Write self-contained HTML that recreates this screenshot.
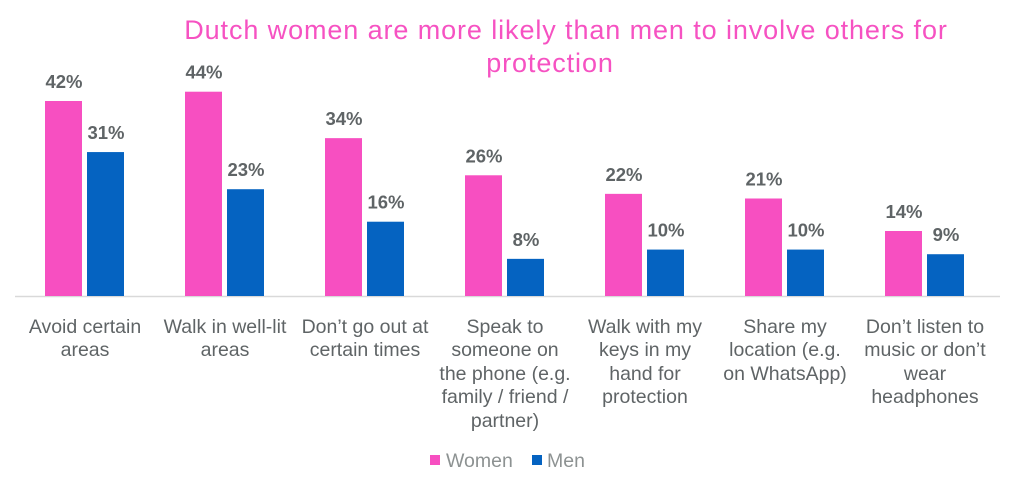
<!DOCTYPE html>
<html><head><meta charset="utf-8"><style>
body{margin:0;background:#fff;width:1024px;height:490px;overflow:hidden}
svg{display:block;font-family:"Liberation Sans",sans-serif}
.v{font-size:18.5px;font-weight:bold;fill:#5f6466;text-anchor:middle}
.c{font-size:19.5px;fill:#5f6466;text-anchor:middle}
.t{font-size:27px;fill:#f652c2;text-anchor:middle;letter-spacing:0.9px}
</style></head><body>
<svg width="1024" height="490" viewBox="0 0 1024 490">
<text class="t" x="566" y="39">Dutch women are more likely than men to involve others for</text>
<text class="t" x="550" y="72">protection</text>
<line x1="15" y1="296.5" x2="1000" y2="296.5" stroke="#d9d9d9" stroke-width="1.5"/>
<g id="bars"></g>
<g>
<text class="c" x="85" y="333">Avoid certain</text><text class="c" x="85" y="356">areas</text>
<text class="c" x="225" y="333">Walk in well-lit</text><text class="c" x="225" y="356">areas</text>
<text class="c" x="365" y="333">Don’t go out at</text><text class="c" x="365" y="356">certain times</text>
<text class="c" x="505" y="333">Speak to</text><text class="c" x="505" y="356">someone on</text><text class="c" x="505" y="380">the phone (e.g.</text><text class="c" x="505" y="403">family / friend /</text><text class="c" x="505" y="427">partner)</text>
<text class="c" x="645" y="333">Walk with my</text><text class="c" x="645" y="356">keys in my</text><text class="c" x="645" y="380">hand for</text><text class="c" x="645" y="403">protection</text>
<text class="c" x="785" y="333">Share my</text><text class="c" x="785" y="356">location (e.g.</text><text class="c" x="785" y="380">on WhatsApp)</text>
<text class="c" x="925" y="333">Don’t listen to</text><text class="c" x="925" y="356">music or don’t</text><text class="c" x="925" y="380">wear</text><text class="c" x="925" y="403">headphones</text>
</g>
<rect x="430" y="455" width="10" height="10" fill="#f74fc1"/>
<text x="446" y="467" style="font-size:19.5px;fill:#8d9292">Women</text>
<rect x="532" y="455" width="10" height="10" fill="#0563c1"/>
<text x="547" y="467" style="font-size:19.5px;fill:#8d9292">Men</text>
</svg>
<script>
var w=[42,44,34,26,22,21,14],m=[31,23,16,8,10,10,9],g=document.getElementById('bars'),s='',k=4.643,b=296;
for(var i=0;i<7;i++){var x=45+i*140;
var hw=w[i]*k,hm=m[i]*k;
s+='<rect x="'+x+'" y="'+(b-hw)+'" width="37" height="'+hw+'" fill="#f74fc1"/>';
s+='<rect x="'+(x+42)+'" y="'+(b-hm)+'" width="37" height="'+hm+'" fill="#0563c1"/>';
s+='<text class="v" x="'+(x+19)+'" y="'+(b-hw-13)+'">'+w[i]+'%</text>';
s+='<text class="v" x="'+(x+61)+'" y="'+(b-hm-13)+'">'+m[i]+'%</text>';}
g.innerHTML=s;
</script>
</body></html>
